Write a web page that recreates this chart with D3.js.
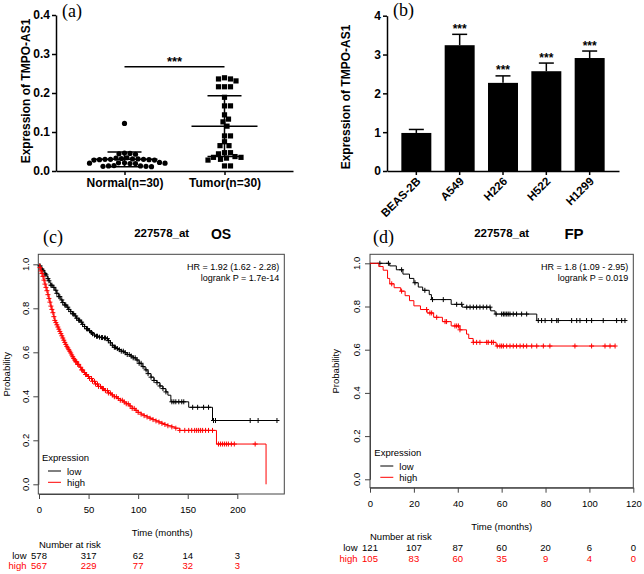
<!DOCTYPE html>
<html><head><meta charset="utf-8">
<script src="https://cdn.jsdelivr.net/npm/d3@7"></script>
<style>body{margin:0;background:#fff}svg{display:block}</style>
</head><body>
<svg id="fig" width="644" height="574"></svg>
<script>
// ---------------- DATA ----------------
// (a) scatter
const groupsA = ["Normal(n=30)", "Tumor(n=30)"];
const normalValues = [0.122,0.046,0.045,0.044,0.043,0.034,0.033,0.032,0.031,0.031,0.030,0.030,0.030,0.029,0.029,0.028,0.028,0.022,0.021,0.021,0.020,0.020,0.019,0.019,0.014,0.013,0.013,0.012,0.012,0.011];
const tumorValues = [0.239,0.236,0.236,0.231,0.216,0.216,0.216,0.189,0.167,0.167,0.144,0.133,0.126,0.115,0.090,0.090,0.075,0.065,0.065,0.047,0.047,0.044,0.037,0.035,0.035,0.033,0.030,0.028,0.013,0.013];
const meansA = [0.030, 0.115];
const sdsA = [0.019, 0.078];
const ticksA = [0, 0.1, 0.2, 0.3, 0.4];
const sigA = 0.267;

// (b) bars
const cellLines = ["BEAS-2B", "A549", "H226", "H522", "H1299"];
const cellMeans = [0.98, 3.24, 2.27, 2.57, 2.91];
const cellErr = [0.09, 0.28, 0.18, 0.21, 0.18];
const cellSig = ["", "***", "***", "***", "***"];
const ticksB = [0, 1, 2, 3, 4];

// (c) OS Kaplan-Meier [time, survival]
const osLowSteps = [[0,1.000],[1,0.993],[2,0.986],[3,0.978],[4,0.972],[5,0.965],[6,0.958],[7,0.952],[8,0.945],[9,0.935],[10,0.925],[11,0.915],[12,0.905],[14,0.895],[16,0.882],[18,0.868],[20,0.853],[22,0.838],[24,0.826],[26,0.815],[28,0.805],[30,0.795],[32,0.785],[34,0.775],[36,0.765],[38,0.755],[40,0.746],[42,0.737],[44,0.727],[46,0.717],[48,0.707],[50,0.698],[52,0.690],[54,0.684],[56,0.678],[58,0.673],[60,0.669],[63,0.667],[66,0.665],[68,0.662],[70,0.653],[72,0.643],[74,0.632],[76,0.623],[78,0.617],[80,0.612],[83,0.605],[86,0.598],[89,0.590],[92,0.583],[95,0.575],[98,0.565],[101,0.550],[104,0.535],[107,0.520],[110,0.503],[113,0.487],[116,0.472],[119,0.462],[122,0.447],[125,0.435],[128,0.420],[130,0.405],[133,0.375],[151,0.350],[175,0.290]];
const osLowEnd = 240;
const osHighSteps = [[0,1.000],[1,0.985],[2,0.970],[3,0.958],[4,0.945],[5,0.928],[6,0.910],[7,0.895],[8,0.880],[9,0.862],[10,0.845],[11,0.828],[12,0.810],[13,0.795],[14,0.780],[15,0.762],[16,0.745],[17,0.735],[18,0.725],[19,0.715],[20,0.705],[21,0.695],[22,0.685],[23,0.675],[24,0.665],[25,0.655],[26,0.645],[27,0.636],[28,0.627],[29,0.620],[30,0.612],[31,0.605],[32,0.597],[33,0.588],[34,0.580],[35,0.572],[36,0.565],[37,0.557],[39,0.545],[41,0.532],[43,0.520],[45,0.508],[47,0.499],[49,0.490],[51,0.481],[54,0.468],[57,0.456],[60,0.445],[63,0.435],[66,0.426],[70,0.415],[73,0.406],[76,0.398],[79,0.390],[82,0.382],[85,0.374],[88,0.366],[91,0.356],[94,0.345],[97,0.336],[100,0.327],[103,0.319],[106,0.312],[109,0.306],[112,0.300],[115,0.294],[118,0.288],[121,0.283],[124,0.277],[127,0.272],[130,0.266],[134,0.261],[137,0.255],[142,0.245],[179,0.183],[229,0.000]];
const osHighEnd = 229;
const osLowCensor = [1,3,4,6,7,9,10,12,13,15,17,18,20,21,23,24,26,27,29,30,32,34,35,37,38,40,41,43,44,46,48,49,51,53,54,56,58,59,61,63,64,66,67,69,70,72,74,76,77,79,81,83,85,87,89,91,93,95,97,99,101,103,105,108,110,113,116,119,122,125,128,134,136,138,141,144,146,155,160,166,171,176,178,213,221,240];
const osHighCensor = [1,2,3,4,5,6,7,8,9,10,11,12,13,14,15,16,17,18,19,20,21,22,23,24,25,26,27,28,29,30,31,32,33,34,35,36,37,38,39,40,42,43,44,46,47,48,50,51,53,54,56,57,59,60,62,64,65,67,69,70,72,74,76,78,80,82,84,86,88,90,92,94,96,98,100,103,106,109,112,115,118,121,124,127,130,134,138,142,147,151,154,157,159,161,163,165,168,171,175,181,183,185,187,189,191,194,197,218];
const osRiskTimes = [0, 50, 100, 150, 200];
const osRiskLow = [578, 317, 62, 14, 3];
const osRiskHigh = [567, 229, 77, 32, 3];

// (d) FP Kaplan-Meier
const fpLowSteps = [[0,1.0],[9,0.988],[12,0.97],[15,0.95],[18,0.93],[20,0.91],[22,0.89],[24,0.875],[27,0.855],[28,0.832],[37,0.81],[42,0.797],[55,0.78],[57,0.765],[76,0.735]];
const fpLowEnd = 116.2;
const fpHighSteps = [[0,1.0],[4,0.985],[6,0.968],[8,0.93],[9,0.905],[11,0.887],[14,0.871],[16,0.85],[18,0.827],[20,0.803],[23,0.786],[26,0.77],[29,0.75],[33,0.73],[37,0.71],[41,0.692],[44,0.672],[45,0.652],[47,0.634],[57.5,0.617]];
const fpHighEnd = 111.7;
const fpLowCensor = [4.5,8.4,14.4,20.5,25,28.5,33.4,39.5,41.8,44.1,45.6,47.1,48.6,50.1,51.6,53.2,54.7,57.5,60,60.8,61.5,62.3,63,63.8,65.3,66.8,69.1,71.4,76.7,78.2,79.8,82.8,85.1,85.8,91.9,94.2,95.7,98.7,101,106.3,112.4,114.7,116.2];
const fpHighCensor = [9.9,14.4,25.8,27.3,28.1,30.4,34.2,34.9,38.7,39.5,40.3,41,47.1,48.6,50.1,53.2,53.9,55.4,56.2,58,59.2,60,60.8,62.3,63.8,65.3,66.8,68.4,69.9,71.4,73.7,76,79,82,93.4,101,107.1,109.4,111.7];
const fpRiskTimes = [0, 20, 40, 60, 80, 100, 120];
const fpRiskLow = [121, 107, 87, 60, 20, 6, 0];
const fpRiskHigh = [105, 83, 60, 35, 9, 4, 0];

// ---------------- DRAW ----------------
const SANS = "'Liberation Sans', Arial, Helvetica, sans-serif";
const SERIF = "'Liberation Serif', 'Times New Roman', serif";
const RED = "#ff0000";
const svg = d3.select("#fig");

function styleAxis(g, size, bold, sw) {
  g.attr("font-family", SANS).attr("font-size", size).attr("font-weight", bold ? "bold" : "normal");
  g.selectAll("path.domain, .tick line").attr("stroke", "#000").attr("stroke-width", sw);
  g.selectAll("text").attr("fill", "#000");
}

// ---- Panel (a) ----
(function () {
  const g = svg.append("g");
  const x = d3.scalePoint(groupsA, [56, 293]).padding(0.685);
  const y = d3.scaleLinear([0, 0.4], [171, 15]);
  const ya = g.append("g").attr("transform", "translate(56,0)")
    .call(d3.axisLeft(y).tickValues(ticksA).tickFormat(d3.format(".1f")).tickSize(4).tickSizeOuter(0).tickPadding(2));
  styleAxis(ya, 12, true, 1.5);
  const xa = g.append("g").attr("transform", "translate(0,171)")
    .call(d3.axisBottom(x).tickSize(4).tickSizeOuter(0).tickPadding(3));
  styleAxis(xa, 12, true, 1.5);

  g.append("text").attr("transform", "translate(30,91) rotate(-90)").attr("text-anchor", "middle")
    .attr("font-family", SANS).attr("font-weight", "bold").attr("font-size", 12).text("Expression of TMPO-AS1");
  g.append("text").attr("x", 62).attr("y", 17).attr("font-family", SERIF).attr("font-size", 18).text("(a)");

  function swarm(vals, cx, dist) {
    const placed = [];
    const items = vals.map(v => ({ v, y: y(v) })).sort((a, b) => a.y - b.y);
    for (const p of items) {
      for (let k = 0; k < 400; k++) {
        const dx = (k % 2 ? 1 : -1) * Math.ceil(k / 2) * 0.5;
        const ok = placed.every(q => (dx - q.dx) ** 2 + (p.y - q.y) ** 2 >= dist * dist);
        if (ok) { p.dx = dx; break; }
      }
      placed.push(p);
    }
    return placed.map(p => ({ x: cx + p.dx, y: p.y }));
  }
  const nPts = swarm(normalValues, x(groupsA[0]), 5.2);
  g.selectAll("circle.n").data(nPts).join("circle").attr("cx", d => d.x).attr("cy", d => d.y).attr("r", 2.6).attr("fill", "#000");
  const tPts = swarm(tumorValues, x(groupsA[1]), 5.8);
  g.selectAll("rect.t").data(tPts).join("rect").attr("x", d => d.x - 2.6).attr("y", d => d.y - 2.6).attr("width", 5.2).attr("height", 5.2).attr("fill", "#000");

  groupsA.forEach((gr, i) => {
    const cx = x(gr), m = meansA[i], s = sdsA[i];
    const L = (x1, y1, x2, y2) => g.append("line").attr("x1", x1).attr("y1", y1).attr("x2", x2).attr("y2", y2).attr("stroke", "#000").attr("stroke-width", 1.5);
    L(cx - 33, y(m), cx + 33, y(m));
    L(cx, y(m - s), cx, y(m + s));
    L(cx - 17, y(m + s), cx + 17, y(m + s));
    L(cx - 17, y(m - s), cx + 17, y(m - s));
  });
  g.append("line").attr("x1", x(groupsA[0])).attr("x2", x(groupsA[1])).attr("y1", y(sigA)).attr("y2", y(sigA)).attr("stroke", "#000").attr("stroke-width", 1.5);
  g.append("text").attr("x", (x(groupsA[0]) + x(groupsA[1])) / 2).attr("y", y(sigA) - 1).attr("text-anchor", "middle")
    .attr("font-family", SANS).attr("font-weight", "bold").attr("font-size", 13).text("***");
})();

// ---- Panel (b) ----
(function () {
  const g = svg.append("g");
  const x = d3.scaleBand(cellLines, [387, 619]).paddingInner(0.308).paddingOuter(0.331);
  const y = d3.scaleLinear([0, 4], [171, 15.7]);
  g.selectAll("rect.bar").data(cellLines).join("rect")
    .attr("x", d => x(d)).attr("y", (d, i) => y(cellMeans[i])).attr("width", x.bandwidth())
    .attr("height", (d, i) => y(0) - y(cellMeans[i])).attr("fill", "#000");
  cellLines.forEach((c, i) => {
    const cx = x(c) + x.bandwidth() / 2;
    const top = y(cellMeans[i] + cellErr[i]);
    g.append("line").attr("x1", cx).attr("x2", cx).attr("y1", y(cellMeans[i])).attr("y2", top).attr("stroke", "#000").attr("stroke-width", 1.5);
    g.append("line").attr("x1", cx - 7.5).attr("x2", cx + 7.5).attr("y1", top).attr("y2", top).attr("stroke", "#000").attr("stroke-width", 1.5);
    if (cellSig[i]) g.append("text").attr("x", cx).attr("y", top - 1.5).attr("text-anchor", "middle")
      .attr("font-family", SANS).attr("font-weight", "bold").attr("font-size", 12).text(cellSig[i]);
  });
  const ya = g.append("g").attr("transform", "translate(387,0)")
    .call(d3.axisLeft(y).tickValues(ticksB).tickFormat(d3.format("d")).tickSize(4).tickSizeOuter(0).tickPadding(2));
  styleAxis(ya, 12, true, 1.5);
  const xa = g.append("g").attr("transform", "translate(0,171)")
    .call(d3.axisBottom(x).tickSize(4).tickSizeOuter(0));
  styleAxis(xa, 11.5, true, 1.5);
  xa.selectAll("text").attr("text-anchor", "end").attr("dy", null).attr("y", 0)
    .attr("transform", "translate(5,11) rotate(-45)");
  g.append("text").attr("transform", "translate(350,97) rotate(-90)").attr("text-anchor", "middle")
    .attr("font-family", SANS).attr("font-weight", "bold").attr("font-size", 12).text("Expression of TMPO-AS1");
  g.append("text").attr("x", 393).attr("y", 16).attr("font-family", SERIF).attr("font-size", 18).text("(b)");
})();

// ---- KM panels ----
function stepAt(steps, t) {
  let s = steps[0][1];
  for (const d of steps) { if (d[0] <= t) s = d[1]; else break; }
  return s;
}
function km(o) {
  const g = svg.append("g");
  const x = d3.scaleLinear(o.xDom, o.xRng);
  const y = d3.scaleLinear([0, 1], o.yRng);
  const [bl, bt, br, bb] = o.box;
  g.append("rect").attr("x", bl).attr("y", bt).attr("width", br - bl).attr("height", bb - bt)
    .attr("fill", "none").attr("stroke", "#444").attr("stroke-width", 1);
  const xa = g.append("g").attr("transform", `translate(0,${bb})`)
    .call(d3.axisBottom(x).tickValues(o.xTicks).tickFormat(d3.format("d")).tickSize(5).tickSizeOuter(0));
  styleAxis(xa, 9.5, false, 1);
  xa.selectAll("path.domain, .tick line").attr("stroke", "#444");
  xa.selectAll("text").attr("dy", null).attr("y", o.xLabY - bb);
  const yTicks = [0, 0.2, 0.4, 0.6, 0.8, 1.0];
  const ya = g.append("g").attr("transform", `translate(${bl},0)`)
    .call(d3.axisLeft(y).tickValues(yTicks).tickSize(5).tickSizeOuter(0).tickFormat(""));
  styleAxis(ya, 9.5, false, 1);
  ya.selectAll("path.domain, .tick line").attr("stroke", "#444");
  yTicks.forEach(v => g.append("text").attr("transform", `translate(${o.yLabX},${y(v)}) rotate(-90)`)
    .attr("text-anchor", "middle").attr("font-family", SANS).attr("font-size", 9.5).text(d3.format(".1f")(v)));

  const line = d3.line().x(d => x(d[0])).y(d => y(d[1])).curve(d3.curveStepAfter);
  const series = [
    { steps: o.low, end: o.lowEnd, cens: o.lowC, col: "#000" },
    { steps: o.high, end: o.highEnd, cens: o.highC, col: RED }
  ];
  series.forEach(sr => {
    const pts = sr.steps.slice();
    const last = pts[pts.length - 1];
    if (last[0] < sr.end) pts.push([sr.end, last[1]]);
    g.append("path").attr("d", line(pts)).attr("fill", "none").attr("stroke", sr.col).attr("stroke-width", 1);
    const p = d3.path();
    sr.cens.forEach(t => {
      const cx = x(t), cy = y(stepAt(sr.steps, t));
      p.moveTo(cx - 2.5, cy); p.lineTo(cx + 2.5, cy);
      p.moveTo(cx, cy - 2.5); p.lineTo(cx, cy + 2.5);
    });
    g.append("path").attr("d", p.toString()).attr("fill", "none").attr("stroke", sr.col).attr("stroke-width", 1);
  });

  const T = (xx, yy, txt, size, opts = {}) => g.append("text").attr("x", xx).attr("y", yy)
    .attr("font-family", opts.serif ? SERIF : SANS).attr("font-size", size)
    .attr("font-weight", opts.bold ? "bold" : "normal").attr("text-anchor", opts.anchor || "start")
    .attr("fill", opts.fill || "#000").text(txt);

  T(br - 5, bt + 16, o.hr, 9, { anchor: "end" });
  T(br - 5, bt + 26.5, o.p, 9, { anchor: "end" });
  T(o.titleX, bt - 17, o.probe, 11.5, { bold: true, anchor: "middle" });
  T(o.endX, bt - 15, o.end, o.endSize, { bold: true, anchor: "middle" });
  T(o.tagX, bt - 11, o.tag, 18, { serif: true });
  g.append("text").attr("transform", `translate(${o.probX},${(o.yRng[0] + o.yRng[1]) / 2}) rotate(-90)`)
    .attr("text-anchor", "middle").attr("font-family", SANS).attr("font-size", 9.5).text("Probability");

  // legend
  const lx = o.legX, ly = o.legY;
  T(lx, ly, "Expression", 9.5);
  g.append("line").attr("x1", lx + 6).attr("x2", lx + 19).attr("y1", ly + 10).attr("y2", ly + 10).attr("stroke", "#000");
  g.append("line").attr("x1", lx + 6).attr("x2", lx + 19).attr("y1", ly + 21.3).attr("y2", ly + 21.3).attr("stroke", RED);
  T(lx + 25, ly + 13.5, "low", 9.5);
  T(lx + 25, ly + 24.5, "high", 9.5);

  // time label & risk table
  T((x(o.xTicks[0]) + x(o.xTicks[o.xTicks.length - 1])) / 2 + o.timeDx, o.timeY, "Time (months)", 9.5, { anchor: "middle" });
  T(x(0), o.riskY, "Number at risk", 9.5);
  T(o.rowLabX, o.riskY + 11, "low", 9.5, { anchor: "end" });
  T(o.rowLabX, o.riskY + 21.5, "high", 9.5, { anchor: "end", fill: RED });
  o.riskT.forEach((t, i) => {
    T(x(t), o.riskY + 11, o.riskLow[i], 9.5, { anchor: "middle" });
    T(x(t), o.riskY + 21.5, o.riskHigh[i], 9.5, { anchor: "middle", fill: RED });
  });
}

km({
  xDom: [0, 200], xRng: [39, 237.3], yRng: [484.3, 264.3], box: [38.3, 254.3, 284.3, 494],
  xTicks: [0, 50, 100, 150, 200], xLabY: 513, yLabX: 28.5, probX: 9.5,
  low: osLowSteps, lowEnd: osLowEnd, lowC: osLowCensor, high: osHighSteps, highEnd: osHighEnd, highC: osHighCensor,
  hr: "HR = 1.92 (1.62 - 2.28)", p: "logrank P = 1.7e-14",
  probe: "227578_at", titleX: 161.7, end: "OS", endX: 221, endSize: 14, tag: "(c)", tagX: 43,
  legX: 42, legY: 461, timeDx: 24, timeY: 536, riskY: 547.5, rowLabX: 26.5,
  riskT: osRiskTimes, riskLow: osRiskLow, riskHigh: osRiskHigh
});
km({
  xDom: [0, 120], xRng: [370, 633.3], yRng: [479.3, 263.3], box: [370, 254.3, 633.3, 487.7],
  xTicks: [0, 20, 40, 60, 80, 100, 120], xLabY: 507.5, yLabX: 360, probX: 339,
  low: fpLowSteps, lowEnd: fpLowEnd, lowC: fpLowCensor, high: fpHighSteps, highEnd: fpHighEnd, highC: fpHighCensor,
  hr: "HR = 1.8 (1.09 - 2.95)", p: "logrank P = 0.019",
  probe: "227578_at", titleX: 501.7, end: "FP", endX: 574, endSize: 15, tag: "(d)", tagX: 373,
  legX: 374.3, legY: 456, timeDx: 0, timeY: 529.5, riskY: 540, rowLabX: 357.5,
  riskT: fpRiskTimes, riskLow: fpRiskLow, riskHigh: fpRiskHigh
});
</script>
</body></html>
